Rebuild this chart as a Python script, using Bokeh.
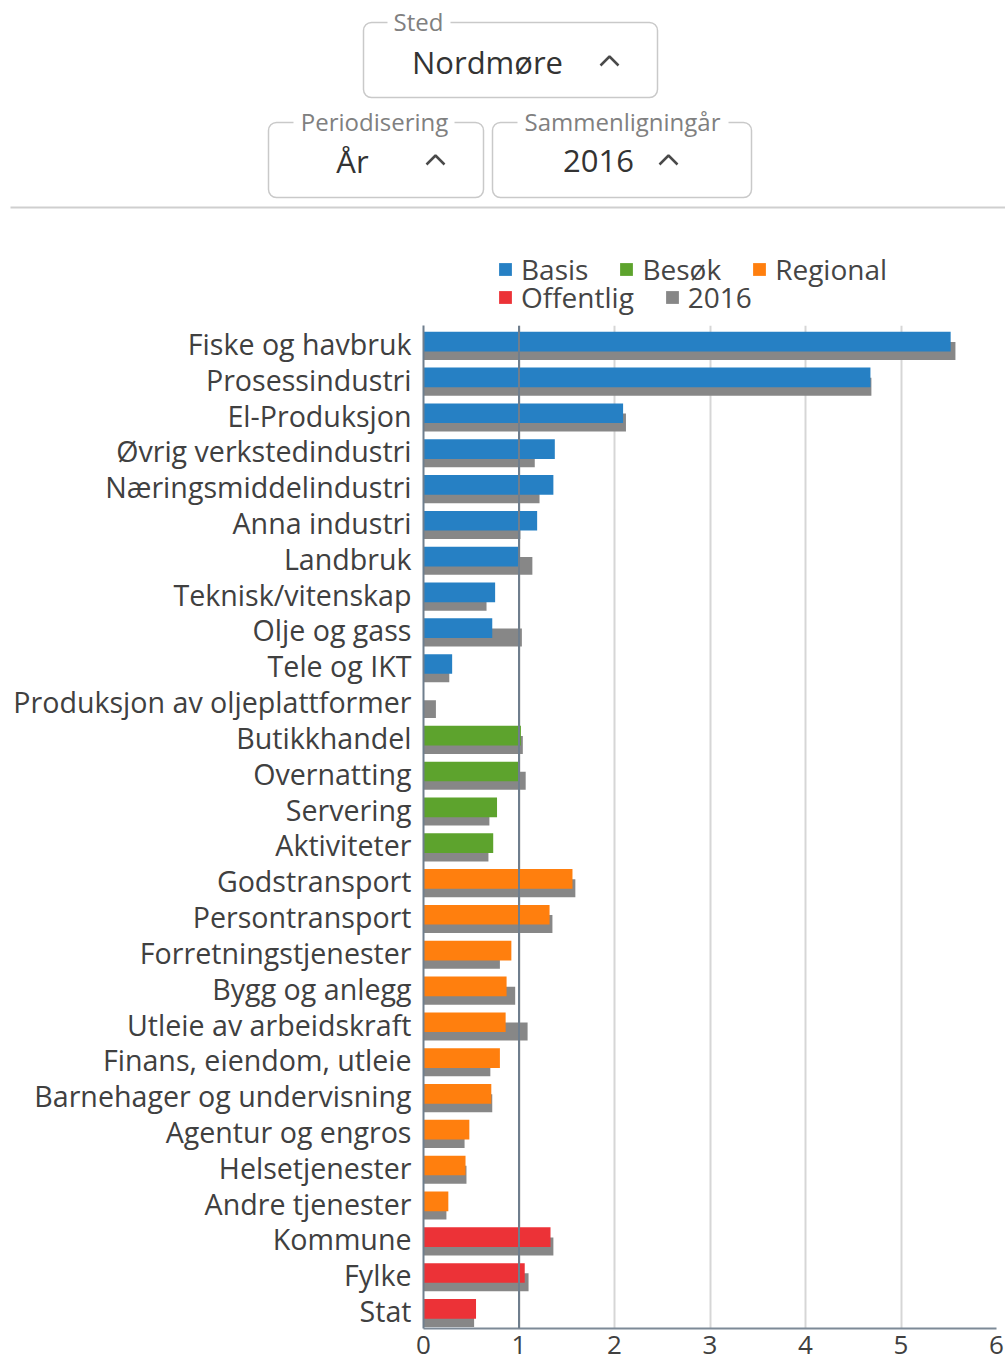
from bokeh.plotting import figure
from bokeh.models import (ColumnDataSource, FactorRange, Range1d, Span, Legend, LegendItem)
from bokeh.transform import dodge, factor_cmap
from bokeh.core.properties import value
from bokeh.embed import file_html
from bokeh.resources import INLINE

# ---------------- data ----------------
categories = [
    "Fiske og havbruk", "Prosessindustri", "El-Produksjon", "Øvrig verkstedindustri",
    "Næringsmiddelindustri", "Anna industri", "Landbruk", "Teknisk/vitenskap",
    "Olje og gass", "Tele og IKT", "Produksjon av oljeplattformer",
    "Butikkhandel", "Overnatting", "Servering", "Aktiviteter",
    "Godstransport", "Persontransport", "Forretningstjenester", "Bygg og anlegg",
    "Utleie av arbeidskraft", "Finans, eiendom, utleie", "Barnehager og undervisning",
    "Agentur og engros", "Helsetjenester", "Andre tjenester",
    "Kommune", "Fylke", "Stat",
]
groups = (["Basis"] * 11 + ["Besøk"] * 4 + ["Regional"] * 10 + ["Offentlig"] * 3)
current_values = [
    5.52, 4.68, 2.09, 1.375, 1.36, 1.19, 1.01, 0.75, 0.72, 0.30, 0.0,
    1.02, 1.01, 0.77, 0.73,
    1.56, 1.32, 0.92, 0.87, 0.86, 0.80, 0.71, 0.48, 0.44, 0.26,
    1.33, 1.06, 0.55,
]
values_2016 = [
    5.57, 4.69, 2.12, 1.165, 1.215, 1.015, 1.14, 0.66, 1.03, 0.27, 0.13,
    1.04, 1.07, 0.69, 0.68,
    1.59, 1.35, 0.80, 0.96, 1.09, 0.70, 0.72, 0.43, 0.45, 0.24,
    1.36, 1.10, 0.53,
]
group_names = ["Basis", "Besøk", "Regional", "Offentlig"]
comparison_label = "2016"
x_ticks = [0, 1, 2, 3, 4, 5, 6]

# UI (selector) texts
ui_labels = ["Sted", "Periodisering", "Sammenligningår"]
ui_values = ["Nordmøre", "År", "2016"]

# ---------------- style ----------------
group_colors = ["#2680c4", "#5da32d", "#ff7f0e", "#ec3237"]
gray = "#878787"
FONT = value("Open Sans")
TXT = "#404040"

W = 1005
TOP_H = 317
CHART_H = 1365 - TOP_H

# ---------------- top (selectors + legend) ----------------
top = figure(width=W, height=TOP_H, x_range=Range1d(0, W), y_range=Range1d(TOP_H, 0),
             x_axis_location=None, y_axis_location=None, toolbar_location=None,
             output_backend="svg", min_border=0, outline_line_color=None)
top.grid.visible = False

box_left = [363, 268, 492]
box_right = [657, 483, 751]
box_top = [22, 122, 122]
box_bottom = [97, 197, 197]
top.quad(left=box_left, right=box_right, top=box_top, bottom=box_bottom,
         fill_color="white", line_color="#c9c9c9", line_width=1.5, border_radius=8)
gap_left = [387, 293, 517]
gap_right = [450, 454, 728]
gap_top = [14, 114, 114]
gap_bottom = [30, 130, 130]
top.quad(left=gap_left, right=gap_right, top=gap_top, bottom=gap_bottom,
         fill_color="white", line_color=None)
top.text(x=[418, 374, 622], y=[21, 121, 121], text=ui_labels, text_align="center",
         text_baseline="middle", text_font=FONT, text_font_size="24px", text_color="#808080")
top.text(x=[487, 352, 598], y=[61, 160, 160], text=ui_values, text_align="center",
         text_baseline="middle", text_font=FONT, text_font_size="31px", text_color="#333333")
chev_x = [609, 435, 668]
chev_y = [61, 160, 160]
top.multi_line(xs=[[cx - 9, cx, cx + 9] for cx in chev_x],
               ys=[[cy + 4, cy - 5, cy + 4] for cy in chev_y],
               line_color="#4a4a4a", line_width=2.5)
top.line(x=[10, 1005], y=[207, 207], line_color="#cfcfcf", line_width=2)

# off-screen swatches that feed the legend
leg_renderers = []
for c in group_colors + [gray]:
    leg_renderers.append(top.quad(left=[-50], right=[-40], top=[-50], bottom=[-40],
                                  fill_color=c, line_color=None))

legend_names = group_names + [comparison_label]
items1 = [LegendItem(label=legend_names[i], renderers=[leg_renderers[i]]) for i in range(3)]
items2 = [LegendItem(label=legend_names[i], renderers=[leg_renderers[i]]) for i in range(3, 5)]
for items, loc in ((items1, (497, 29)), (items2, (497, 1))):
    lg = Legend(items=items, location=loc, orientation="horizontal",
                glyph_width=16, glyph_height=16, label_standoff=8, spacing=30,
                padding=0, margin=0, border_line_color=None, background_fill_alpha=0,
                label_text_font="Open Sans", label_text_font_size="28px", label_text_color="#454545")
    top.add_layout(lg)

# ---------------- chart ----------------
src = ColumnDataSource(dict(cat=categories, cur=current_values, prev=values_2016, grp=groups))

p = figure(width=W, height=CHART_H, y_range=FactorRange(factors=categories[::-1]),
           x_range=Range1d(0, 6), toolbar_location=None, output_backend="svg",
           min_border_left=423, min_border_right=9, min_border_top=8, min_border_bottom=37,
           outline_line_color=None)

p.hbar(y=dodge("cat", -0.21, range=p.y_range), right="prev", height=0.5, source=src,
       fill_color=gray, line_color=None)
p.hbar(y=dodge("cat", 0.05, range=p.y_range), right="cur", height=0.55, source=src,
       fill_color=factor_cmap("grp", group_colors, group_names), line_color=None)

p.ygrid.grid_line_color = None
p.xgrid.grid_line_color = "#d6d6d6"
p.xgrid.grid_line_width = 2
p.xaxis.ticker = x_ticks
p.add_layout(Span(location=1, dimension="height", line_color="#6f7e8d", line_width=2))

p.yaxis.axis_line_color = "#6f7e8d"
p.yaxis.axis_line_width = 2
p.yaxis.major_tick_line_color = None
p.yaxis.minor_tick_line_color = None
p.yaxis.major_label_standoff = 6
p.yaxis.major_label_text_font = "Open Sans"
p.yaxis.major_label_text_font_size = "28.6px"
p.yaxis.major_label_text_color = TXT

p.xaxis.axis_line_color = "#7d8a97"
p.xaxis.axis_line_width = 2
p.xaxis.major_tick_line_color = None
p.xaxis.minor_tick_line_color = None
p.xaxis.major_label_standoff = 1
p.xaxis.major_label_text_font = "Open Sans"
p.xaxis.major_label_text_font_size = "26px"
p.xaxis.major_label_text_color = TXT

open("out.html", "w").write(file_html([top, p], INLINE))
